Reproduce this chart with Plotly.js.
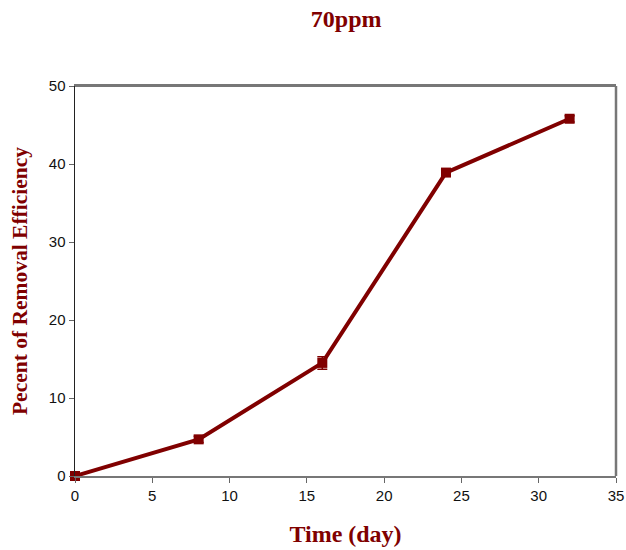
<!DOCTYPE html>
<html><head><meta charset="utf-8">
<script src="https://cdn.plot.ly/plotly-3.0.1.min.js"></script>
<style>html,body{margin:0;padding:0;background:#fff}</style>
</head><body>
<div id="chart" style="width:626px;height:550px"></div>
<script>
const timeDays = [0, 8, 16, 24, 32];
const removalPct = [0, 4.7, 14.5, 38.9, 45.8];
const errorPct = [0.2, 0.4, 0.8, 0.4, 0.4];
const xTicks = [0, 5, 10, 15, 20, 25, 30, 35];
const yTicks = [0, 10, 20, 30, 40, 50];
const dark = '#800000';
const trace = {
  x: timeDays, y: removalPct, type: 'scatter', mode: 'lines+markers',
  line: {color: dark, width: 4},
  marker: {symbol: 'square', size: 10, color: dark},
  error_y: {type: 'data', array: errorPct, visible: true, color: dark, thickness: 1.5, width: 5},
  cliponaxis: false
};
const layout = {
  width: 626, height: 550,
  margin: {l: 75, r: 10, t: 86, b: 74},
  paper_bgcolor: '#fff', plot_bgcolor: '#fff',
  showlegend: false,
  title: {text: '<b>70ppm</b>', x: 0.553, xanchor: 'center', y: 0.967, yanchor: 'middle',
    font: {family: 'Liberation Serif, Times New Roman, serif', size: 24, color: dark}},
  xaxis: {range: [0, 35], tickvals: xTicks, ticks: 'outside', ticklen: 5, tickcolor: '#666',
    showgrid: false, zeroline: false, showline: true, linecolor: '#777', linewidth: 2, mirror: true,
    tickfont: {family: 'Liberation Sans, Arial, sans-serif', size: 15, color: '#111'},
    title: {text: '<b>Time (day)</b>', standoff: 22,
      font: {family: 'Liberation Serif, Times New Roman, serif', size: 24, color: dark}}},
  yaxis: {range: [0, 50], tickvals: yTicks, ticks: 'outside', ticklen: 5, tickcolor: '#666',
    showgrid: false, zeroline: false, showline: true, linecolor: '#222', linewidth: 1.5, mirror: false,
    tickfont: {family: 'Liberation Sans, Arial, sans-serif', size: 15, color: '#111'},
    title: {text: '<b>Pecent of Removal Efficiency</b>', standoff: 15,
      font: {family: 'Liberation Serif, Times New Roman, serif', size: 21.5, color: dark}}},
  shapes: [
    {type: 'line', xref: 'paper', yref: 'paper', x0: 0, x1: 1, y0: 1, y1: 1, line: {color: '#777', width: 2}},
    {type: 'line', xref: 'paper', yref: 'paper', x0: 1, x1: 1, y0: 0, y1: 1, line: {color: '#777', width: 2.5}}
  ]
};
Plotly.newPlot('chart', [trace], layout, {displayModeBar: false, staticPlot: true});
</script>
</body></html>
